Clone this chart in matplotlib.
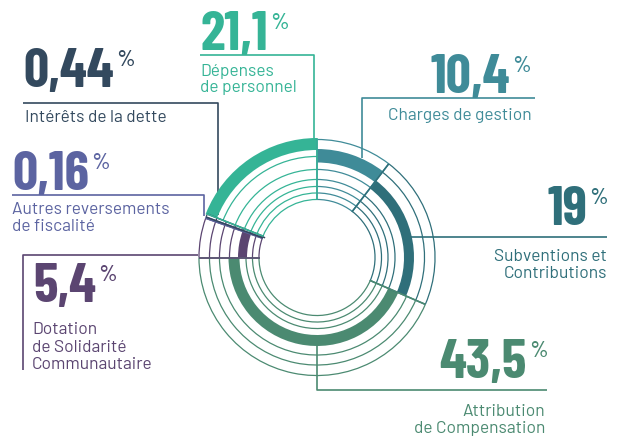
import matplotlib.pyplot as plt
import numpy as np

# --- DONNÉES ---
categories = ["Charges de gestion", "Subventions et\nContributions", "Attribution\nde Compensation",
              "Dotation\nde Solidarité\nCommunautaire", "Autres reversements\nde fiscalité",
              "Intérêts de la dette", "Dépenses\nde personnel"]
valeurs = [10.4, 19, 43.5, 5.4, 0.16, 0.44, 21.1]
# longueur des arcs telle que dessinée (Subventions et Dépenses inversées sur l'original)
arcs = [10.4, 21.1, 43.5, 5.4, 0.16, 0.44, 19.0]
anneaux = [6, 5, 4, 3, 2, 1, 7]  # anneau qui porte la bande épaisse
couleurs = ["#3f8b98", "#2f6f7a", "#4b8a71", "#5b4571", "#5c64a1", "#33495e", "#35b496"]

# --- MISE EN PAGE ---
W, H = 623, 440
cx, cy, R = 317, 257.5, 130
r_int = [58, 64.5, 71, 78, 88, 101]
r_ext = [118, 107.5, 97.5, 87.5, 79, 71]
bande = {1: (55.5, 61.5), 2: (62, 69), 3: (70, 79), 4: (77.5, 88.5),
         5: (87, 97), 6: (95, 108.5), 7: (107.5, 119.5)}

# (x, ligne de base, alignement) du chiffre puis du texte
pos_num = [(510, 93, "right"), (587, 225, "right"), (527, 378, "right"), (33, 302, "left"),
           (12, 190, "left"), (23, 87.5, "left"), (200, 50, "left")]
pos_lab = [(532, 120, "right"), (607, 261, "right"), (545, 416.5, "right"), (32, 334, "left"),
           (12, 214, "left"), (25, 122, "left"), (200, 76, "left")]
interligne = [16.5, 17, 16.8, 17.5, 16.8, 16.5, 16]
renvois = [[(362, 158), (362, 98.5), (535, 98.5)],
           [(411, 237.5), (607, 237.5)],
           [(317, 345), (317, 390), (547, 390)],
           [(23, 370), (23, 255.5), (198, 255.5)],
           [(12, 195.5), (204, 195.5), (204, 216)],
           [(23, 103), (217.5, 103), (217.5, 215)],
           [(200, 55), (313.5, 55), (313.5, 139)]]

fig = plt.figure(figsize=(W / 100, H / 100), dpi=100)
ax0 = fig.add_axes([0, 0, 1, 1])
ax0.set_xlim(0, W)
ax0.set_ylim(H, 0)
ax0.axis("off")

ax = fig.add_axes([(cx - R) / W, (H - cy - R) / H, 2 * R / W, 2 * R / H], projection="polar")
ax.set_theta_zero_location("N")
ax.set_theta_direction(-1)
ax.set_rlim(0, R)
ax.axis("off")

debuts = np.concatenate([[0], np.cumsum(arcs)[:-1]]) / 100 * 2 * np.pi
largeurs = np.array(arcs) / 100 * 2 * np.pi

for t0, dt, k, c in zip(debuts, largeurs, anneaux, couleurs):
    b0, b1 = bande[k]
    ax.bar(t0, b1 - b0, width=dt, bottom=b0, align="edge", color=c, linewidth=0)
    for r in r_int[:k - 1] + r_ext[:7 - k]:
        ax.bar(t0, 1.25, width=dt, bottom=r - 0.6, align="edge", color=c, linewidth=0)
    rmax = b1 if k == 7 else r_ext[0]
    for t in (t0, t0 + dt):
        ax.plot([t, t], [57.5, rmax], color=c, lw=1.1, solid_capstyle="butt")

for pts, c in zip(renvois, couleurs):
    xs, ys = zip(*pts)
    ax0.plot(xs, ys, color=c, lw=1.2, solid_capstyle="butt")

fig.canvas.draw()
for v, lab, pn, pl, il, c in zip(valeurs, categories, pos_num, pos_lab, interligne, couleurs):
    txt = ax0.text(pn[0], pn[1], f"{v:g}".replace(".", ","), ha=pn[2], va="baseline",
                   fontsize=40, fontweight="bold", family="Barlow Condensed", color=c)
    ax0.annotate("%", xy=(1, 1), xycoords=txt, xytext=(2, -2), textcoords="offset pixels",
                 ha="left", va="top", fontsize=16, fontweight="medium",
                 family="Barlow", color=c)
    for i, ligne in enumerate(lab.split("\n")):
        ax0.text(pl[0], pl[1] + i * il, ligne, ha=pl[2], va="baseline",
                 fontsize=12.5, family="Barlow", color=c)

fig.savefig("out.png", dpi=100)
